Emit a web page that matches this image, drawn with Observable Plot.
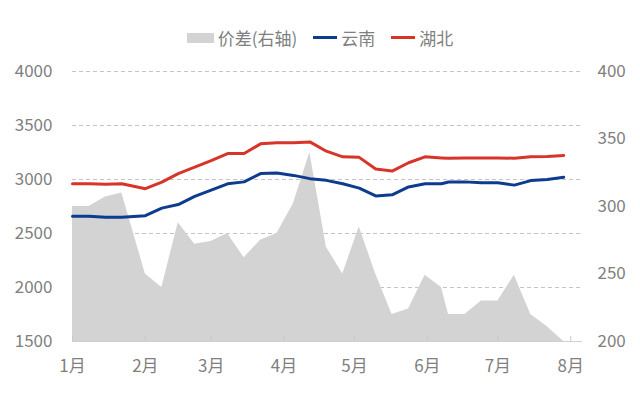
<!DOCTYPE html>
<html><head><meta charset="utf-8">
<script src="https://cdn.jsdelivr.net/npm/d3@7"></script>
<script src="https://cdn.jsdelivr.net/npm/@observablehq/plot@0.6"></script>
<style>
body{margin:0;background:#fff;font-family:"Noto Sans CJK SC","Noto Sans",sans-serif;}
#legend{height:35px;padding-top:20px;display:flex;align-items:center;justify-content:center;font-size:17px;color:#7f7f7f;}
.item{display:flex;align-items:center;margin:0 8px;}
.sw{display:inline-block;margin-right:4px;}
</style></head><body>
<div id="legend">
  <span class="item"><span class="sw" style="width:27px;height:10px;background:#d3d3d3"></span>价差(右轴)</span>
  <span class="item"><span class="sw" style="width:24px;height:3px;background:#0d3c8e"></span>云南</span>
  <span class="item"><span class="sw" style="width:24px;height:3px;background:#d8352a"></span>湖北</span>
</div>
<div id="chart"></div>
<script>
const dates = ["2021-01-01","2021-01-08","2021-01-15","2021-01-22","2021-02-01","2021-02-08","2021-02-15","2021-02-22","2021-03-01","2021-03-08","2021-03-15","2021-03-22","2021-03-29","2021-04-05","2021-04-12","2021-04-19","2021-04-26","2021-05-03","2021-05-10","2021-05-17","2021-05-24","2021-05-31","2021-06-07","2021-06-10","2021-06-17","2021-06-24","2021-07-01","2021-07-08","2021-07-15","2021-07-22","2021-07-29"];
const hubei = [2960,2960,2955,2960,2915,2975,3055,3114,3175,3240,3240,3330,3340,3340,3348,3262,3210,3205,3098,3078,3155,3210,3200,3197,3200,3200,3200,3197,3210,3212,3222];
const yunnan = [2660,2660,2650,2650,2665,2735,2768,2843,2902,2960,2978,3055,3060,3038,3008,2992,2960,2920,2848,2858,2931,2961,2960,2977,2978,2970,2970,2948,2990,3001,3021];
const spread = [300,300,307,310,250,240,288,272,274,280,262,275,280,302,340,270,250,285,250,220,224,249,240,220,220,230,230,249,220,211,200];
const leftTicks = [1500,2000,2500,3000,3500,4000];
const rightTicks = [200,250,300,350,400];
const monthTicks = ["2021-01-01","2021-02-01","2021-03-01","2021-04-01","2021-05-01","2021-06-01","2021-07-01","2021-08-01"];
const monthLabels = ["1月","2月","3月","4月","5月","6月","7月","8月"];
const xDomain = ["2021-01-01","2021-08-06"];

const toLeft = v => 1500 + (v - 200) * (4000 - 1500) / (400 - 200);
const toRight = v => 200 + (v - 1500) * (400 - 200) / (4000 - 1500);

const data = dates.map((d, i) => ({date: new Date(d), hubei: hubei[i], yunnan: yunnan[i], spread: toLeft(spread[i])}));
const mTicks = monthTicks.map(d => new Date(d));
const labelOf = d => monthLabels[mTicks.findIndex(t => +t === +d)];

const chart = Plot.plot({
  width: 640, height: 346,
  marginTop: 16, marginBottom: 60, marginLeft: 72, marginRight: 58,
  style: {fontSize: "17px", fontFamily: '"Noto Sans CJK SC","Noto Sans",sans-serif', color: "#7f7f7f", background: "#fff"},
  x: {type: "utc", domain: xDomain.map(d => new Date(d))},
  y: {domain: [1500, 4000]},
  marks: [
    Plot.ruleY(leftTicks.filter(t => t > 1500), {stroke: "#c4c4c4", strokeDasharray: "4,3"}),
    Plot.areaY(data, {x: "date", y1: 1500, y2: "spread", fill: "#d3d3d3"}),
    Plot.ruleY([1500], {stroke: "#d0d0d0"}),
    Plot.axisX(mTicks, {tickSize: -5, tickPadding: 23, stroke: "#c8c8c8", tickFormat: labelOf, fill: "#7f7f7f"}),
    Plot.axisY(leftTicks, {anchor: "left", tickSize: 0, tickPadding: 20, tickFormat: d => String(d), label: null}),
    Plot.axisY(rightTicks.map(toLeft), {anchor: "right", tickSize: 0, tickPadding: 15, tickFormat: d => String(Math.round(toRight(d))), label: null}),
    Plot.line(data, {x: "date", y: "yunnan", stroke: "#0d3c8e", strokeWidth: 3}),
    Plot.line(data, {x: "date", y: "hubei", stroke: "#d8352a", strokeWidth: 3})
  ]
});
document.getElementById("chart").appendChild(chart);
</script>
</body></html>
